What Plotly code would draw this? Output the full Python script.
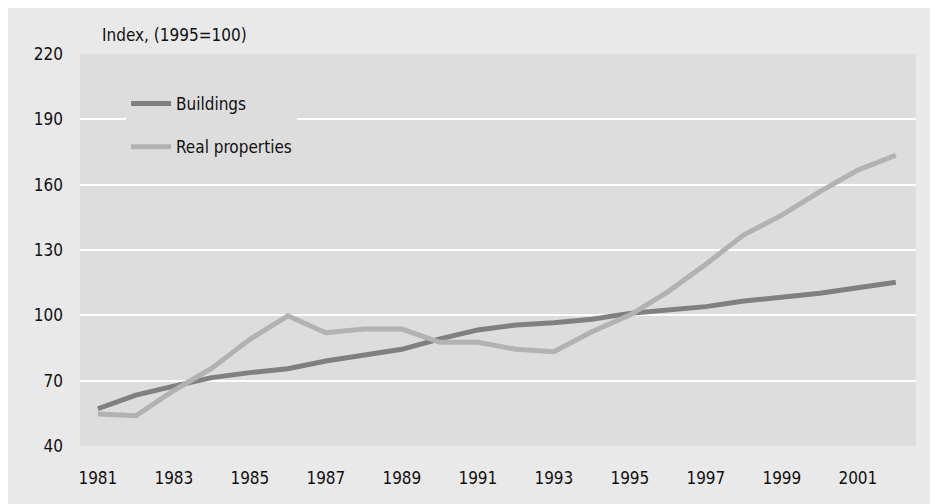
import plotly.graph_objects as go

years = list(range(1981, 2003))
buildings = [57.1, 63.4, 67.5, 71.4, 73.7, 75.5, 79.0, 81.6, 84.4, 89.2, 93.3, 95.6,
             96.6, 98.2, 100.9, 102.4, 104.0, 106.6, 108.3, 110.1, 112.7, 115.2]
real_properties = [54.7, 53.9, 65.5, 75.7, 89.0, 99.8, 92.0, 93.7, 93.7, 87.6, 87.6, 84.4,
                   83.3, 92.5, 100.1, 110.8, 123.5, 137.0, 146.0, 156.8, 166.7, 173.5]
y_ticks = [40, 70, 100, 130, 160, 190, 220]
x_ticks = list(range(1981, 2002, 2))

FONT = "Liberation Sans Narrow, DejaVu Sans Condensed, Arial Narrow, sans-serif"

fig = go.Figure()
fig.add_trace(go.Scatter(x=years, y=buildings, mode="lines", name="Buildings",
                         legendgroup="a",
                         line=dict(color="#808080", width=5)))
fig.add_trace(go.Scatter(x=years, y=real_properties, mode="lines", name="Real properties",
                         legendgroup="b",
                         line=dict(color="#b2b2b2", width=5)))

L, R, T, B = 72, 30, 46, 66
W, H = 938, 504
pw, ph = W - L - R, H - T - B

def px_x(p):
    return (p - L) / pw

def px_y(p):
    return (H - B - p) / ph

fig.update_layout(
    width=W, height=H,
    margin=dict(l=L, r=R, t=T, b=B, pad=0),
    paper_bgcolor="#e9e9e9",
    plot_bgcolor="#dddddd",
    font=dict(family=FONT, size=17, color="#111111"),
    showlegend=True,
    legend=dict(x=px_x(118), y=px_y(78), xanchor="left", yanchor="top",
                bgcolor="#dddddd", borderwidth=0, tracegroupgap=18,
                font=dict(family=FONT, size=17, color="#111111"),
                itemwidth=40),
    xaxis=dict(range=[1980.53, 2002.53], tickvals=x_ticks, showgrid=False,
               zeroline=False, showline=False, ticks="", ticklabelstandoff=20,
               tickfont=dict(family=FONT, size=17)),
    yaxis=dict(range=[40, 220], tickvals=y_ticks, showgrid=True,
               gridcolor="#ffffff", gridwidth=2, zeroline=False, showline=False,
               ticks="", ticklabelstandoff=16,
               tickfont=dict(family=FONT, size=17)),
    annotations=[
        dict(text="Index, (1995=100)", xref="paper", yref="paper",
             x=px_x(92), y=px_y(27), xanchor="left", yanchor="middle",
             showarrow=False, font=dict(family=FONT, size=17, color="#111111")),
    ],
)

fig.write_html("out.html")
